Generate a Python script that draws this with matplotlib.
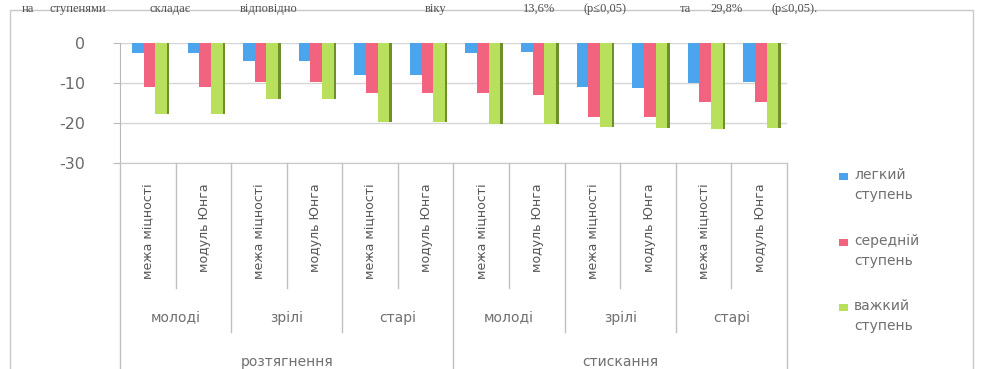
import matplotlib as mpl
mpl.use("Agg")
import matplotlib.pyplot as plt
import matplotlib.transforms as mtransforms
from matplotlib.patches import Rectangle
import numpy as np

# data
subcats = ['межа міцності', 'модуль Юнга'] * 6
ages = ['молоді', 'зрілі', 'старі', 'молоді', 'зрілі', 'старі']
loads = ['розтягнення', 'стискання']
series = ['легкий\nступень', 'середній\nступень', 'важкий\nступень']
light = [-2.5, -2.5, -4.6, -4.6, -8.1, -8.1, -2.6, -2.2, -11.0, -11.2, -10.0, -9.8]
medium = [-11.0, -11.0, -9.7, -9.7, -12.5, -12.5, -12.6, -13.0, -18.5, -18.5, -14.8, -14.8]
heavy = [-17.8, -17.8, -14.0, -14.0, -19.8, -19.8, -20.2, -20.3, -21.0, -21.3, -21.5, -21.2]

colors = ['#4ba4ec', '#f1637f', '#b9e05c']
shades = ['#2f6fa8', '#a83a50', '#6e8f2c']
TXT = '#707070'
GRID = '#d6d6d6'

W, H = 982, 369
fig = plt.figure(figsize=(W / 100, H / 100), dpi=100)
fig.patch.set_facecolor('white')

# chart frame (runs off the bottom of the scan)
fig.patches.append(Rectangle((10 / W, -0.05), (973 - 10) / W, (H - 10) / H + 0.05,
                             transform=fig.transFigure, fill=False, ec='#c8c8c8', lw=1.0))

# last line of the document text above the chart
top_words = [('на', 22), ('ступенями', 50), ('складає', 150), ('відповідно', 240), ('віку', 425),
             ('13,6%', 523), ('(р≤0,05)', 583), ('та', 680), ('29,8%', 710), ('(р≤0,05).', 772)]
for w, xp in top_words:
    fig.text(xp / W, (H - 12) / H, w, family='Liberation Serif', fontsize=9,
             color='#505050', va='baseline', ha='left')

ax = fig.add_axes([120 / W, (H - 163) / H, (787 - 120) / W, 120 / H])
x = np.arange(len(subcats))
bw = 0.21
for k, (vals, c, sc) in enumerate(zip([light, medium, heavy], colors, shades)):
    xs = x + (k - 1) * bw + 0.03
    ax.bar(xs + 0.045, vals, width=bw, color=sc, zorder=2 + k * 2, lw=0, align='center')
    ax.bar(xs, vals, width=bw, color=c, zorder=3 + k * 2, lw=0, label=series[k])

ax.set_xlim(-0.5, len(subcats) - 0.5)
ax.set_ylim(-30, 0)
ax.set_yticks([0, -10, -20, -30])
ax.set_yticklabels(['0', '-10', '-20', '-30'], color='#6a6a6a', fontsize=11.5, family='DejaVu Sans')
ax.tick_params(axis='y', length=5, color='#b8b8b8', pad=20)
ax.tick_params(axis='x', length=0, labelbottom=False)
ax.grid(axis='y', color=GRID, lw=1.0, zorder=0)
for s in ['top', 'right']:
    ax.spines[s].set_visible(False)
ax.spines['left'].set_color('#b8b8b8')
ax.spines['bottom'].set_color('#c8c8c8')

# multi-level category axis
tr = mtransforms.blended_transform_factory(ax.transData, ax.transAxes)
bounds = np.arange(-0.5, len(subcats), 1.0)
for b in bounds:
    i = int(b + 0.5)
    if i in (0, 6, 12):
        yb = -1.9
    elif i % 2 == 0:
        yb = -1.41
    else:
        yb = -1.04
    ax.plot([b, b], [0, yb], transform=tr, color='#c0c0c0', lw=1.0, clip_on=False)

for i, lab in enumerate(subcats):
    ax.text(i + 0.02, -0.17, lab, transform=tr, rotation=90, ha='center', va='top',
            fontsize=9, color='#555555', family=['Liberation Sans Narrow', 'DejaVu Sans'])
for j, lab in enumerate(ages):
    ax.text(2 * j + 0.5, -1.29, lab, transform=tr, ha='center', va='center',
            fontsize=10, color=TXT, family='DejaVu Sans')
for j, lab in enumerate(loads):
    ax.text(6 * j + 2.5, -1.66, lab, transform=tr, ha='center', va='center',
            fontsize=10, color=TXT, family='DejaVu Sans')

# legend on the right
leg_y = [176, 242, 307]
for lab, c, yp in zip(series, colors, leg_y):
    fig.patches.append(Rectangle((839 / W, (H - yp - 4) / H), 9 / W, 7 / H,
                                 transform=fig.transFigure, color=c, lw=0))
    fig.text(854 / W, (H - yp + 8) / H, lab, fontsize=10, color=TXT, va='top', ha='left',
             family='DejaVu Sans', linespacing=1.55, transform=fig.transFigure)

fig.savefig('out.png', dpi=100)
